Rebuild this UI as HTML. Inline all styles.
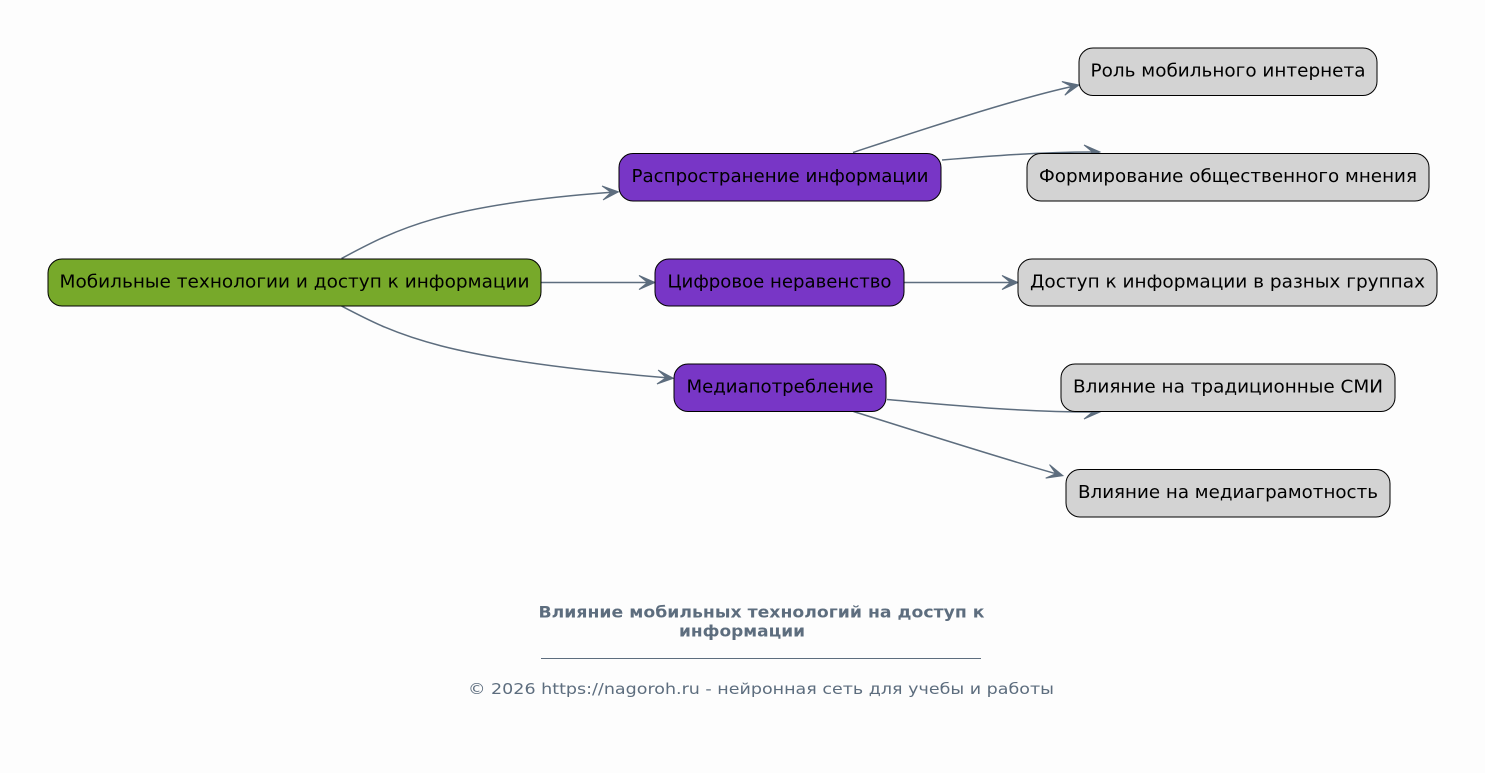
<!DOCTYPE html>
<html>
<head>
<meta charset="utf-8">
<style>
  html, body { margin: 0; padding: 0; background: #fdfdfd; }
  svg { display: block; }
  text { font-family: "DejaVu Sans", "Liberation Sans", sans-serif; }
</style>
</head>
<body>
<svg width="1485" height="773" viewBox="0 0 1485 773" xmlns="http://www.w3.org/2000/svg">
  <rect x="0" y="0" width="1485" height="773" fill="#fdfdfd"/>

  <!-- Edges -->
  <g fill="none" stroke="#5d6d7e" stroke-width="1.5">
    <path d="M341.5,258.5 C395,230 440,205 611.5,192.3"/>
    <path d="M541,282.5 L648,282.5"/>
    <path d="M341.5,306 C395,334 440,359 666.5,377.7"/>
    <path d="M853,152.5 C900,137 1010,100 1072.2,86.5"/>
    <path d="M942,160 C990,156 1040,152 1093,152"/>
    <path d="M904,282.5 L1011,282.5"/>
    <path d="M887,399.5 C950,405 1020,412 1093,412"/>
    <path d="M853.5,411.5 C900,426 1000,458 1056.3,473.8"/>
  </g>

  <!-- Arrowheads -->
  <g fill="#5d6d7e" stroke="#5d6d7e" stroke-width="1" stroke-linejoin="miter">
    <polygon points="0,0 -16,-7 -7.5,0 -16,7" transform="translate(618.5,191.8) rotate(-4.2)"/>
    <polygon points="0,0 -16,-7 -7.5,0 -16,7" transform="translate(655,282.5)"/>
    <polygon points="0,0 -16,-7 -7.5,0 -16,7" transform="translate(673.5,378.3) rotate(4.7)"/>
    <polygon points="0,0 -16,-7 -7.5,0 -16,7" transform="translate(1079,85) rotate(-12.1)"/>
    <polygon points="0,0 -16,-7 -7.5,0 -16,7" transform="translate(1100,152)"/>
    <polygon points="0,0 -16,-7 -7.5,0 -16,7" transform="translate(1018,282.5)"/>
    <polygon points="0,0 -16,-7 -7.5,0 -16,7" transform="translate(1100,412)"/>
    <polygon points="0,0 -16,-7 -7.5,0 -16,7" transform="translate(1063,475.7) rotate(15.8)"/>
  </g>

  <!-- Nodes -->
  <g stroke="#000" stroke-width="1">
    <rect x="48" y="259" width="493" height="47" rx="14" ry="14" fill="#77a92a"/>
    <rect x="619" y="153.5" width="322" height="47.5" rx="14" ry="14" fill="#7836c6"/>
    <rect x="655" y="259" width="249" height="47" rx="14" ry="14" fill="#7836c6"/>
    <rect x="674" y="364" width="212" height="47.5" rx="14" ry="14" fill="#7836c6"/>
    <rect x="1079" y="48" width="298" height="47.5" rx="14" ry="14" fill="#d3d3d3"/>
    <rect x="1027" y="153.5" width="402" height="47.5" rx="14" ry="14" fill="#d3d3d3"/>
    <rect x="1018" y="259" width="419" height="47" rx="14" ry="14" fill="#d3d3d3"/>
    <rect x="1061" y="364" width="334" height="47.5" rx="14" ry="14" fill="#d3d3d3"/>
    <rect x="1066" y="469.5" width="324" height="47.5" rx="14" ry="14" fill="#d3d3d3"/>
  </g>

  <!-- Node labels -->
  <g fill="#000" font-size="18" text-anchor="middle">
    <text x="294.5" y="287.5" textLength="470" lengthAdjust="spacingAndGlyphs">Мобильные технологии и доступ к информации</text>
    <text x="780" y="182" textLength="297" lengthAdjust="spacingAndGlyphs">Распространение информации</text>
    <text x="779.5" y="287.5" textLength="224" lengthAdjust="spacingAndGlyphs">Цифровое неравенство</text>
    <text x="780" y="392.5" textLength="187" lengthAdjust="spacingAndGlyphs">Медиапотребление</text>
    <text x="1228" y="76.5" textLength="275" lengthAdjust="spacingAndGlyphs">Роль мобильного интернета</text>
    <text x="1228" y="182" textLength="378" lengthAdjust="spacingAndGlyphs">Формирование общественного мнения</text>
    <text x="1227.5" y="287.5" textLength="395" lengthAdjust="spacingAndGlyphs">Доступ к информации в разных группах</text>
    <text x="1228" y="392.5" textLength="310" lengthAdjust="spacingAndGlyphs">Влияние на традиционные СМИ</text>
    <text x="1228" y="498" textLength="300" lengthAdjust="spacingAndGlyphs">Влияние на медиаграмотность</text>
  </g>

  <!-- Title -->
  <g fill="#5d6d7e">
    <text x="538.5" y="617.3" font-size="16" font-weight="bold" textLength="446" lengthAdjust="spacingAndGlyphs">Влияние мобильных технологий на доступ к</text>
    <text x="679" y="636.3" font-size="16" font-weight="bold" textLength="126" lengthAdjust="spacingAndGlyphs">информации</text>
  </g>
  <line x1="541" y1="658.5" x2="981" y2="658.5" stroke="#5d6d7e" stroke-width="1"/>
  <text x="468" y="694" font-size="15.5" fill="#5d6d7e" textLength="586" lengthAdjust="spacingAndGlyphs">© 2026 https://nagoroh.ru - нейронная сеть для учебы и работы</text>
</svg>
</body>
</html>
